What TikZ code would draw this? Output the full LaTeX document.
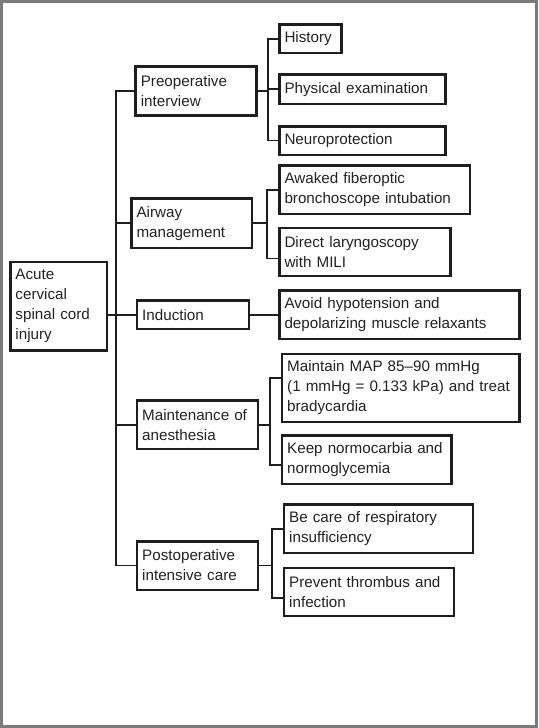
\documentclass[tikz,border=0pt]{standalone}
\usepackage{fontspec}
\setmainfont{Liberation Sans}
\definecolor{framegray}{HTML}{7A7A7A}
\definecolor{boxline}{HTML}{1E1E1E}
\definecolor{boxtext}{HTML}{222222}
\tikzset{
  box/.style={draw=boxline, line width=2.5pt, align=left, inner xsep=5pt, inner ysep=0pt,
    text=boxtext, font=\fontsize{15.2}{20}\selectfont},
  boxsize/.code 2 args={\pgfmathsetmacro\boxtw{#1-13}%
    \pgfkeysalso{minimum width=#1pt-2.5pt, minimum height=#2pt-2.5pt, text width=\boxtw pt}},
  link/.style={draw=boxline, line width=1.8pt},
}
\begin{document}
\begin{tikzpicture}[x=1pt, y=-1pt]
    \useasboundingbox (0,0) rectangle (538,728);
    \draw[framegray, line width=3pt] (1.5,1.5) rectangle (536.5,726.5);

    \node[box, boxsize={99.3}{91}] (root) at (58.65,306.2) {Acute\\cervical\\spinal cord\\injury};

    \node[box, boxsize={123.4}{51.7}] (preop) at (196,90.85) {Preoperative\\interview};
    \node[box, boxsize={123.3}{51.7}] (airway) at (191.65,223.15) {Airway\\management};
    \node[box, boxsize={114.3}{30.7}] (induction) at (192.85,314.65) {Induction};
    \node[box, boxsize={123.3}{50.7}] (maint) at (197.35,424.65) {Maintenance of\\anesthesia};
    \node[box, boxsize={123.3}{51}] (postop) at (197.35,565.5) {Postoperative\\intensive care};

    \node[box, boxsize={64.7}{30.7}] (history) at (310.35,38.65) {History};
    \node[box, boxsize={168.7}{31.7}] (physical) at (362.35,89.15) {Physical examination};
    \node[box, boxsize={168.7}{31}] (neuro) at (362.35,140.5) {Neuroprotection};

    \node[box, boxsize={193}{51.3}] (awaked) at (374.5,189.65) {Awaked fiberoptic\\bronchoscope intubation};
    \node[box, boxsize={173.7}{50.6}] (direct) at (364.85,252) {Direct laryngoscopy\\with MILI};

    \node[box, boxsize={242.7}{50.7}] (avoid) at (399.35,314.65) {Avoid hypotension and\\depolarizing muscle relaxants};

    \node[box, boxsize={240}{70.6}] (map) at (400.7,388) {Maintain MAP 85--90 mmHg\\(1 mmHg = 0.133 kPa) and treat\\bradycardia};
    \node[box, boxsize={172}{51}] (keep) at (366.7,459.8) {Keep normocarbia and\\normoglycemia};

    \node[box, boxsize={191.6}{50.7}] (becare) at (378.5,528.65) {Be care of respiratory\\insufficiency};
    \node[box, boxsize={172.3}{50.6}] (prevent) at (368.85,592) {Prevent thrombus and\\infection};

    \path (116,0) coordinate (spine);
    \path (268,0) coordinate (s1);
    \path (266.7,0) coordinate (s2);
    \path (270,0) coordinate (s4);
    \path (271.7,0) coordinate (s5);

    \path ([yshift=-6.5pt]direct.west) coordinate (directin);
    \path ([yshift=9.7pt]map.west) coordinate (mapin);
    \path ([yshift=-5.2pt]keep.west) coordinate (keepin);
    \path ([yshift=-6.3pt]prevent.west) coordinate (preventin);

    \draw[link] (root.east |- induction.west) -- (induction.west);
    \draw[link] (preop.west) -| (spine |- postop.west) -- (postop.west);
    \draw[link] (spine |- airway.west) -- (airway.west);
    \draw[link] (spine |- maint.west) -- (maint.west);

    \draw[link] (preop.east) -- (s1 |- preop.east);
    \draw[link] (history.west) -| (s1 |- neuro.west) -- (neuro.west);
    \draw[link] (s1 |- physical.west) -- (physical.west);

    \draw[link] (airway.east) -- (s2 |- airway.east);
    \draw[link] (awaked.west) -| (s2 |- directin) -- (directin);

    \draw[link] (induction.east) -- (avoid.west);

    \draw[link] (maint.east) -- (s4 |- maint.east);
    \draw[link] (mapin) -| (s4 |- keepin) -- (keepin);

    \draw[link] (postop.east) -- (s5 |- postop.east);
    \draw[link] (becare.west) -| (s5 |- preventin) -- (preventin);
\end{tikzpicture}
\end{document}
